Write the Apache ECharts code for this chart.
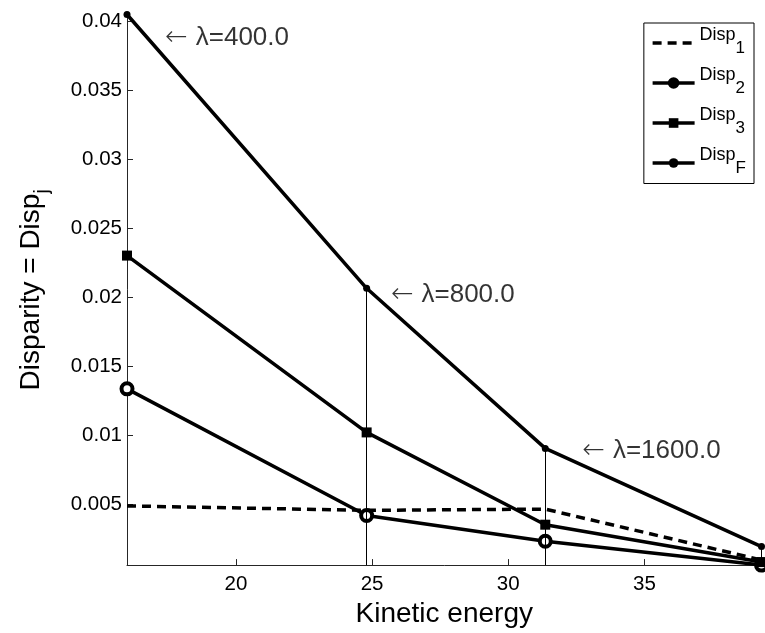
<!DOCTYPE html>
<html>
<head>
<meta charset="utf-8">
<script src="https://cdn.jsdelivr.net/npm/echarts@6/dist/echarts.min.js"></script>
<style>
  html, body { margin: 0; padding: 0; background: #fff; }
  #chart { width: 765px; height: 633px; }
</style>
</head>
<body>
<div id="chart"></div>
<script>
// Kinetic energy at each regularisation step
const energy = [16, 24.8, 31.36, 39.3];
// Disparity measures
const disp1 = [0.00487, 0.00455, 0.00464, 0.00095];
const disp2 = [0.01336, 0.00418, 0.00231, 0.00058];
const disp3 = [0.02302, 0.0102, 0.00351, 0.00080];
const dispF = [0.0405, 0.02065, 0.00904, 0.00192];

const seriesSubs = ['1', '2', '3', 'F'];
const xTicks = [20, 25, 30, 35];
const yTicks = [0.005, 0.01, 0.015, 0.02, 0.025, 0.03, 0.035, 0.04];

// λ annotations placed beside the DispF curve
const lambdaText = ['\u03bb=400.0', '\u03bb=800.0', '\u03bb=1600.0'];
const lambdaX = [17.4, 25.69, 32.72];
const lambdaY = [0.03881, 0.02016, 0.00886];

const FONT = '"Liberation Sans", Arial, "DejaVu Sans", sans-serif';
const yFloor = Math.min(...disp1, ...disp2, ...disp3, ...dispF);

const pairs = ys => energy.map((x, i) => [x, ys[i]]);

const chart = echarts.init(document.getElementById('chart'), null, { renderer: 'canvas' });

const baseLine = {
  type: 'line',
  clip: false,
  silent: true,
  animation: false,
  emphasis: { disabled: true },
  z: 3
};

chart.setOption({
  backgroundColor: '#fff',
  animation: false,
  textStyle: { fontFamily: FONT },
  grid: { left: 127, right: 3.5, top: 14.5, bottom: 64, containLabel: false },
  xAxis: {
    type: 'value',
    min: 'dataMin',
    max: 'dataMax',
    name: 'Kinetic energy',
    nameLocation: 'middle',
    nameGap: 29,
    nameTextStyle: { fontSize: 28, color: '#000', fontFamily: FONT },
    axisLine: { show: true, lineStyle: { color: '#262626', width: 1 } },
    axisTick: { show: true, inside: true, length: 6, customValues: xTicks, lineStyle: { color: '#262626' } },
    axisLabel: { customValues: xTicks, fontSize: 20.5, color: '#000', margin: 9, fontFamily: FONT },
    splitLine: { show: false }
  },
  yAxis: {
    type: 'value',
    min: 'dataMin',
    max: 'dataMax',
    name: '{a|Disparity = Disp}{s|j}',
    nameLocation: 'middle',
    nameGap: 75,
    nameTextStyle: {
      color: '#000',
      fontFamily: FONT,
      rich: {
        a: { fontSize: 28, color: '#000', fontFamily: FONT },
        s: { fontSize: 20, color: '#000', fontFamily: FONT, padding: [22, 0, 0, 0] }
      }
    },
    axisLine: { show: true, lineStyle: { color: '#262626', width: 1 } },
    axisTick: { show: true, inside: true, length: 6, customValues: yTicks, lineStyle: { color: '#262626' } },
    axisLabel: {
      customValues: yTicks,
      fontSize: 20.5,
      color: '#000',
      margin: 5,
      fontFamily: FONT,
      formatter: v => String(v)
    },
    splitLine: { show: false }
  },
  legend: {
    orient: 'vertical',
    right: 11,
    top: 23,
    padding: [3.5, 8, 7, 7],
    borderColor: '#000',
    borderWidth: 1,
    backgroundColor: '#fff',
    itemWidth: 42,
    itemHeight: 12,
    itemGap: 10,
    selectedMode: false,
    formatter: name => '{a|Disp}{s|' + name.slice(5) + '}',
    textStyle: {
      fontFamily: FONT,
      rich: {
        a: { fontSize: 18, color: '#000', fontFamily: FONT, padding: [0, 0, 15, 0] },
        s: { fontSize: 17, color: '#000', fontFamily: FONT, padding: [10, 0, 0, 0] }
      }
    },
    data: [
      { name: 'Disp_' + seriesSubs[0], itemStyle: { opacity: 0 }, lineStyle: { width: 3.5 } },
      { name: 'Disp_' + seriesSubs[1], itemStyle: { color: '#000', borderColor: '#000' }, lineStyle: { width: 3.5 } },
      { name: 'Disp_' + seriesSubs[2], lineStyle: { width: 3.5 } },
      { name: 'Disp_' + seriesSubs[3], lineStyle: { width: 3.5 } }
    ]
  },
  series: [
    Object.assign({}, baseLine, {
      name: 'Disp_' + seriesSubs[0],
      data: pairs(disp1),
      symbol: 'none',
      lineStyle: { color: '#000', width: 3.5, type: [9, 6] },
      itemStyle: { color: '#000' }
    }),
    Object.assign({}, baseLine, {
      name: 'Disp_' + seriesSubs[1],
      data: pairs(disp2),
      symbol: 'circle',
      symbolSize: 11,
      lineStyle: { color: '#000', width: 3.5 },
      itemStyle: { color: '#fff', borderColor: '#000', borderWidth: 4 }
    }),
    Object.assign({}, baseLine, {
      name: 'Disp_' + seriesSubs[2],
      data: pairs(disp3),
      symbol: 'rect',
      symbolSize: 10,
      lineStyle: { color: '#000', width: 3.5 },
      itemStyle: { color: '#000' }
    }),
    Object.assign({}, baseLine, {
      name: 'Disp_' + seriesSubs[3],
      data: pairs(dispF),
      symbol: 'circle',
      symbolSize: 7,
      lineStyle: { color: '#000', width: 3.5 },
      itemStyle: { color: '#000' },
      markLine: {
        silent: true,
        symbol: 'none',
        animation: false,
        label: { show: false },
        lineStyle: { color: '#000', width: 1, type: 'solid' },
        emphasis: { disabled: true },
        data: energy.slice(1).map((x, i) => [
          { coord: [x, yFloor] },
          { coord: [x, dispF[i + 1]] }
        ])
      }
    }),
    {
      type: 'scatter',
      name: 'lambda',
      silent: true,
      animation: false,
      symbolSize: 0,
      clip: false,
      z: 5,
      data: lambdaX.map((x, i) => ({ value: [x, lambdaY[i]], label: { formatter: '{arr|\u2190}{t|' + lambdaText[i] + '}' } })),
      label: {
        show: true,
        position: 'right',
        distance: 0,
        color: '#000',
        rich: {
          arr: { fontSize: 27, color: '#000', fontFamily: '"DejaVu Sans", sans-serif', fontWeight: 'lighter', padding: [0, 8, 0, 0] },
          t: { fontSize: 26, color: '#000', fontFamily: FONT }
        }
      }
    }
  ]
});
</script>
</body>
</html>
